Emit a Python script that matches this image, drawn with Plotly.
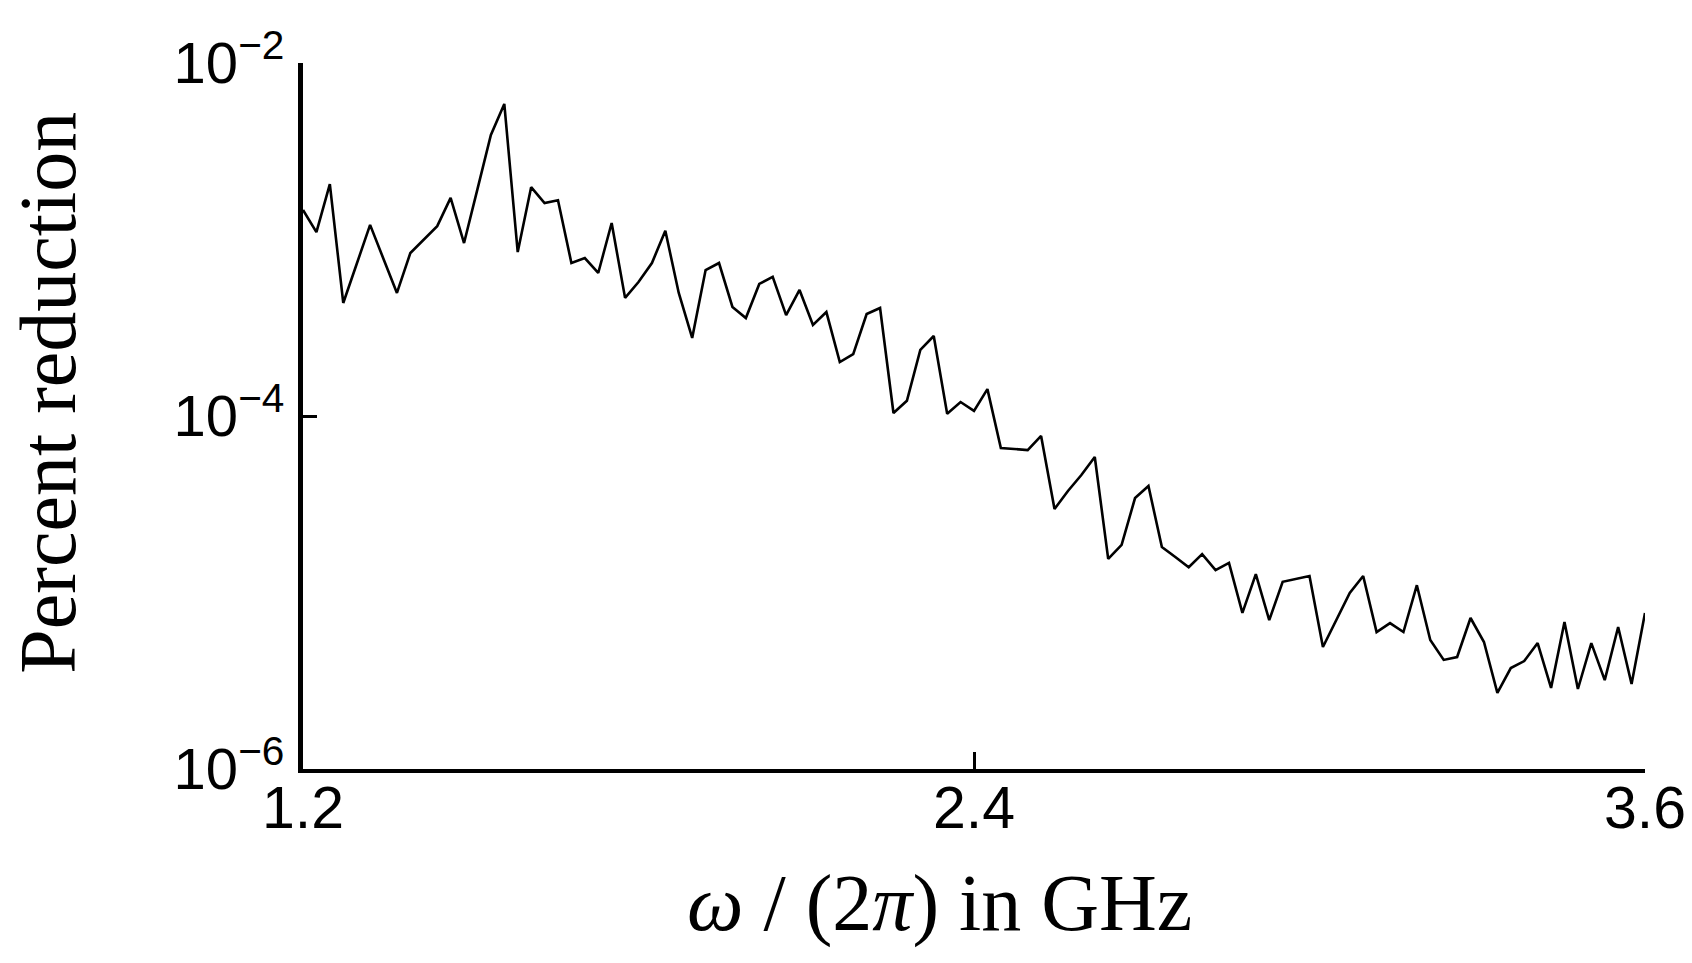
import plotly.graph_objects as go

# Frequency axis: 101 samples from 1.2 to 3.6 GHz (step 0.024)
freq_start = 1.2
freq_step = 0.024
n_points = 101
freq = [round(freq_start + i * freq_step, 4) for i in range(n_points)]

# Percent reduction values (log scale)
reduction = [
    1.47e-3, 1.10e-3, 2.06e-3, 4.37e-4, 7.26e-4, 1.21e-3, 7.76e-4, 4.98e-4, 8.39e-4, 9.93e-4,
    1.19e-3, 1.72e-3, 9.55e-4, 1.93e-3, 3.91e-3, 5.86e-3, 8.49e-4, 1.98e-3, 1.61e-3, 1.67e-3,
    7.36e-4, 7.85e-4, 6.46e-4, 1.24e-3, 4.67e-4, 5.74e-4, 7.36e-4, 1.12e-3, 4.98e-4, 2.77e-4,
    6.71e-4, 7.36e-4, 4.15e-4, 3.59e-4, 5.60e-4, 6.14e-4, 3.73e-4, 5.18e-4, 3.28e-4, 3.88e-4,
    2.02e-4, 2.24e-4, 3.78e-4, 4.09e-4, 1.04e-4, 1.22e-4, 2.37e-4, 2.84e-4, 1.03e-4, 1.20e-4,
    1.07e-4, 1.42e-4, 6.59e-5, 6.50e-5, 6.41e-5, 7.71e-5, 2.97e-5, 3.76e-5, 4.63e-5, 5.86e-5,
    1.55e-5, 1.86e-5, 3.43e-5, 4.01e-5, 1.81e-5, 1.59e-5, 1.39e-5, 1.65e-5, 1.34e-5, 1.47e-5,
    7.66e-6, 1.27e-5, 6.98e-6, 1.15e-5, 1.19e-5, 1.24e-5, 4.91e-6, 6.98e-6, 9.93e-6, 1.24e-5,
    5.97e-6, 6.71e-6, 5.97e-6, 1.10e-5, 5.38e-6, 4.15e-6, 4.31e-6, 7.17e-6, 5.24e-6, 2.70e-6,
    3.73e-6, 4.09e-6, 5.17e-6, 2.88e-6, 6.81e-6, 2.84e-6, 5.17e-6, 3.19e-6, 6.38e-6, 3.03e-6,
    7.66e-6,
]

x_tickvals = [1.2, 2.4, 3.6]
x_ticktext = ["1.2", "2.4", "3.6"]
y_tickvals = [1e-6, 1e-4, 1e-2]
y_ticktext = ["10<sup>\u22126</sup>", "10<sup>\u22124</sup>", "10<sup>\u22122</sup>"]
x_title = "<i>\u03c9</i> / (2<i>\u03c0</i>) in GHz"
y_title = "Percent reduction"

fig = go.Figure()
fig.add_trace(go.Scatter(
    x=freq, y=reduction, mode="lines",
    line=dict(color="black", width=2.6),
    showlegend=False, hoverinfo="skip",
))

x_tick_font = dict(family="Liberation Sans, Arial, sans-serif", size=59, color="black")
y_tick_font = dict(family="Liberation Sans, Arial, sans-serif", size=58, color="black")
title_font = dict(family="Liberation Serif, Times New Roman, serif", size=80, color="black")

fig.update_layout(
    width=1692, height=963,
    margin=dict(l=303, r=47, t=63, b=194, pad=0),
    plot_bgcolor="white", paper_bgcolor="white",
    xaxis=dict(
        range=[1.2, 3.6], tickvals=x_tickvals, ticktext=x_ticktext,
        showgrid=False, zeroline=False, showline=True, linecolor="black", linewidth=4,
        ticks="inside", ticklen=17, tickwidth=2.5, tickcolor="black",
        tickfont=x_tick_font, ticklabelstandoff=-16, automargin=False,
    ),
    yaxis=dict(
        type="log", range=[-6, -2], tickvals=y_tickvals, ticktext=y_ticktext,
        showgrid=False, zeroline=False, showline=True, linecolor="black", linewidth=5,
        ticks="inside", ticklen=14, tickwidth=2.5, tickcolor="black",
        tickfont=y_tick_font, ticklabelstandoff=2, automargin=False,
    ),
    annotations=[
        dict(text=x_title, xref="paper", yref="paper", x=0.474, y=-0.191,
             xanchor="center", yanchor="middle", showarrow=False, font=title_font),
        dict(text=y_title, xref="paper", yref="paper", x=-0.190, y=0.533,
             xanchor="center", yanchor="middle", textangle=-90, showarrow=False, font=title_font),
    ],
)

fig.write_html(
    "out.html",
    config={"displayModeBar": False},
    post_script="document.body.style.margin='0';document.body.style.overflow='hidden';",
)
